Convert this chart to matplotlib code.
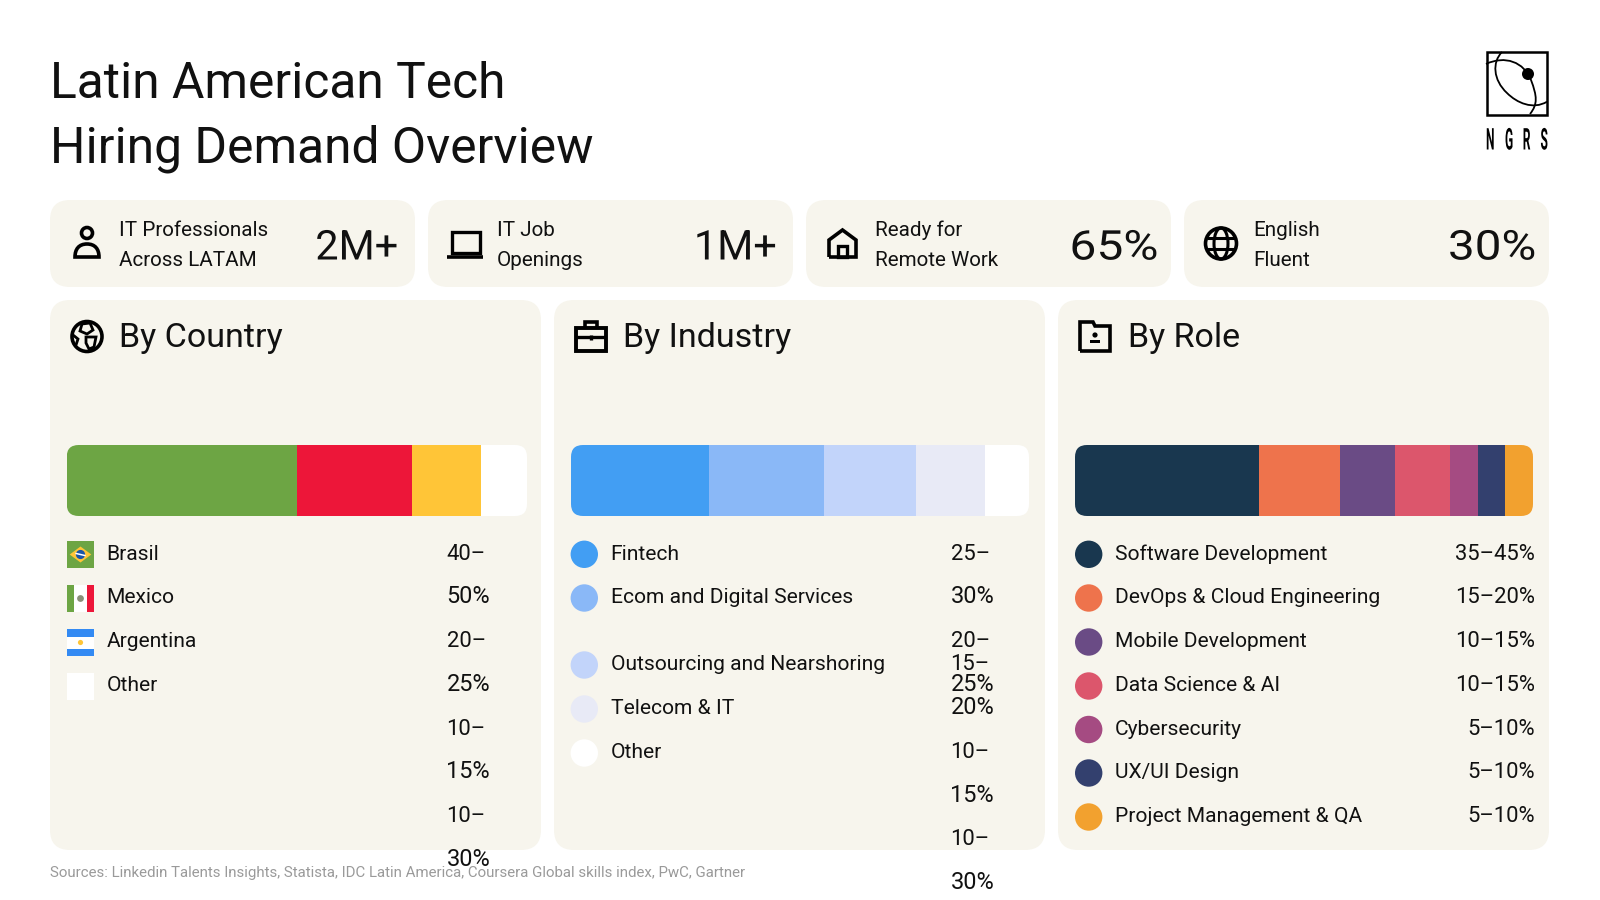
import numpy as np
import matplotlib
matplotlib.use("Agg")
import matplotlib.pyplot as plt
from matplotlib.patches import FancyBboxPatch, Circle, Rectangle, Polygon, Ellipse, PathPatch
from matplotlib.path import Path
from matplotlib.patheffects import AbstractPathEffect
from matplotlib.transforms import Affine2D

# ---------- data ----------
title_lines = ["Latin American Tech", "Hiring Demand Overview"]
kpi_labels = [["IT Professionals", "Across LATAM"], ["IT Job", "Openings"],
              ["Ready for", "Remote Work"], ["English", "Fluent"]]
kpi_values = ["2M+", "1M+", "65%", "30%"]
panel_titles = ["By Country", "By Industry", "By Role"]

countries = ["Brasil", "Mexico", "Argentina", "Other"]
country_share = [50, 25, 15, 10]
country_ranges = ["40–50%", "20–25%", "10–15%", "10–30%"]
country_colors = ["#6DA544", "#ED1639", "#FFC537", "#FFFFFF"]

industries = ["Fintech", "Ecom and Digital Services", "Outsourcing and Nearshoring", "Telecom & IT", "Other"]
industry_share = [30, 25, 20, 15, 9.5]
industry_ranges = ["25–30%", "20–25%", "15–20%", "10–15%", "10–30%"]
industry_colors = ["#429EF3", "#8AB8F7", "#C2D4FA", "#E8EAF6", "#FFFFFF"]

roles = ["Software Development", "DevOps & Cloud Engineering", "Mobile Development", "Data Science & AI",
         "Cybersecurity", "UX/UI Design", "Project Management & QA"]
role_share = [40, 17.5, 12, 12, 6, 6, 6]
role_ranges = ["35–45%", "15–20%", "10–15%", "10–15%", "5–10%", "5–10%", "5–10%"]
role_colors = ["#19374F", "#EE734C", "#6A4B85", "#DC566C", "#A54B82", "#33406E", "#F2A12F"]

source_note = "Sources: Linkedin Talents Insights, Statista, IDC Latin America, Coursera Global skills index, PwC, Gartner"
logo_letters = ["N", "G", "R", "S"]

# ---------- style ----------
FONT = "Roboto"
INK = "#111111"
CARD = "#F7F5ED"
W, H = 1600, 900
plt.rcParams["font.family"] = [FONT, "DejaVu Sans"]

def px(s):
    return s * 0.72

class Squeeze(AbstractPathEffect):
    """Change text width horizontally while it stays a real text object."""
    def __init__(self, sx):
        super().__init__()
        self.sx = sx
    def draw_path(self, renderer, gc, tpath, affine, rgbFace=None):
        renderer.draw_path(gc, tpath, Affine2D().scale(self.sx, 1) + affine, rgbFace)

fig = plt.figure(figsize=(16, 9), dpi=100, facecolor="white")
ax = fig.add_axes([0, 0, 1, 1])
ax.set_xlim(0, W)
ax.set_ylim(H, 0)
ax.axis("off")

def rbox(x0, y0, x1, y1, r, color, z=1, **kw):
    p = FancyBboxPatch((x0, y0), x1 - x0, y1 - y0, boxstyle=f"round,pad=0,rounding_size={r}",
                       fc=color, ec="none", zorder=z, **kw)
    ax.add_patch(p)
    return p

def txt(x, y, s, size, ha="left", color=INK, z=5, **kw):
    return ax.text(x, y, s, fontsize=px(size), ha=ha, va="baseline", color=color, zorder=z, **kw)

def stroke(xs, ys, lw=2.6):
    ax.plot(xs, ys, color="#000000", lw=lw, solid_capstyle="butt", solid_joinstyle="miter", zorder=6)

def ring(cx, cy, r, lw=2.6, fc="none"):
    ax.add_patch(Circle((cx, cy), r, fc=fc, ec="#000000", lw=lw, zorder=6))

# ---------- title ----------
for s, y in zip(title_lines, [97.5, 162.5]):
    txt(50, y, s, 49.8)

# ---------- logo ----------
ax.add_patch(Rectangle((1486.8, 52.3), 60.5, 62.5, fc="none", ec="#000000", lw=1.8, zorder=6))
arc1 = Path([(1486, 64), (1505, 55), (1524, 62), (1531, 80), (1537, 96), (1538, 104), (1530, 114)],
            [Path.MOVETO] + [Path.CURVE4] * 6)
arc2 = Path([(1502, 52), (1492, 62), (1493, 80), (1507, 93), (1517, 103), (1533, 110), (1547, 101.7)],
            [Path.MOVETO] + [Path.CURVE4] * 6)
for a in (arc1, arc2):
    ax.add_patch(PathPatch(a, fc="none", ec="#000000", lw=1.3, zorder=6))
ax.add_patch(Circle((1528, 74), 6, fc="#000000", ec="none", zorder=7))
for letter, x in zip(logo_letters, [1486, 1505, 1522.8, 1540.5]):
    t = txt(x, 149.5, letter, 30, color="#000000", fontweight="bold")
    t.set_path_effects([Squeeze(0.40)])

# ---------- KPI cards ----------
kpi_x = [(50, 415), (428, 793), (806, 1171), (1184, 1549)]
kpi_text_x = [118.7, 496.7, 875.2, 1253.2]
kpi_val_x = [315.3, 693.9, 1069.4, 1448]
kpi_val_sx = [1.01, 1.01, 1.17, 1.16]
for (x0, x1), lab, val, lx, vx, sx in zip(kpi_x, kpi_labels, kpi_values, kpi_text_x, kpi_val_x, kpi_val_sx):
    rbox(x0, 200, x1, 287, 20, CARD)
    txt(lx, 236.5, lab[0], 20.6)
    txt(lx, 265.5, lab[1], 20.6)
    t = txt(vx, 259.5, val, 41)
    t.set_path_effects([Squeeze(sx)])

# person icon
ring(87, 233, 5.5)
ax.add_patch(PathPatch(Path([(75, 257), (75, 249), (79, 244), (87, 244), (95, 244), (99, 249), (99, 257), (75, 257)],
                            [Path.MOVETO, Path.CURVE4, Path.CURVE4, Path.CURVE4, Path.CURVE4, Path.CURVE4, Path.CURVE4, Path.CLOSEPOLY]),
                       fc="none", ec="#000000", lw=2.6, zorder=6))
# laptop icon
ax.add_patch(Rectangle((452, 232), 28, 21, fc="none", ec="#000000", lw=2.4, zorder=6))
stroke([447, 483], [256.5, 256.5], lw=2.6)
# house icon
stroke([829, 829, 842.5, 856, 856, 829], [257, 240, 230, 240, 257, 257])
ax.add_patch(Rectangle((838, 246), 9, 11, fc="none", ec="#000000", lw=2.4, zorder=6))
# globe icon
ring(1221, 243.5, 15.5)
ax.add_patch(Ellipse((1221, 243.5), 14, 31, fc="none", ec="#000000", lw=2.2, zorder=6))
stroke([1207, 1235], [238, 238], lw=2.2)
stroke([1207, 1235], [249, 249], lw=2.2)

# ---------- panels ----------
panel_x = [(50, 541), (554, 1045), (1058, 1549)]
title_x = [119, 623, 1127.5]
for (x0, x1), t, tx in zip(panel_x, panel_titles, title_x):
    rbox(x0, 300, x1, 850, 20, CARD)
    txt(tx, 346.5, t, 34)

# panel icons
ring(87, 336.5, 15)
ax.add_patch(Polygon([(82, 324), (90, 323), (93, 330), (87, 334), (80, 331)], fc="none", ec="#000", lw=2, zorder=6))
ax.add_patch(Polygon([(86, 337), (96, 337), (94, 347), (89, 349), (86, 343)], fc="none", ec="#000", lw=2, zorder=6))
stroke([73, 78, 76], [335, 339, 345], lw=2)
ax.add_patch(Rectangle((576, 328), 30, 23, fc="none", ec="#000000", lw=2.8, zorder=6))
stroke([576, 606], [337, 337], lw=2.4)
stroke([585, 585, 597, 597], [328, 322, 322, 328], lw=2.6)
stroke([591, 591], [335, 340], lw=2.4)
stroke([1080, 1080, 1093, 1095, 1110, 1110, 1080], [351, 322, 322, 326, 326, 351, 351])
ax.add_patch(Circle((1095, 335), 2.6, fc="#000", ec="none", zorder=6))
ax.add_patch(Rectangle((1090, 340), 10, 3, fc="#000", ec="none", zorder=6))

# ---------- stacked bars, drawn through their own axes ----------
def stacked_bar(x0, x1, shares, colors):
    y0, y1 = 445, 516
    bax = fig.add_axes([x0 / W, 1 - y1 / H, (x1 - x0) / W, (y1 - y0) / H], zorder=3)
    bax.set_xlim(0, sum(shares))
    bax.set_ylim(0, 1)
    bax.axis("off")
    clip = FancyBboxPatch((x0, y0), x1 - x0, y1 - y0, boxstyle="round,pad=0,rounding_size=12",
                          fc="none", ec="none", transform=ax.transData)
    left = 0
    for v, c in zip(shares, colors):
        b = bax.barh(0.5, v, left=left, height=1, color=c, linewidth=0)[0]
        b.set_clip_path(clip)
        left += v

stacked_bar(66.7, 527, country_share, country_colors)
stacked_bar(571, 1029, industry_share, industry_colors)
stacked_bar(1075, 1533, role_share, role_colors)

def wrapped(ranges):
    lines = []
    for r in ranges:
        a, b = r.split("–")
        lines += [a + "–", b]
    return lines

def value_size(s):
    return 23.5 if s.endswith("%") else 22

ROW = [559.6, 603.3, 647.3, 691.3, 734.8, 778.3, 822.3, 866.3]
NAME = 21
CIRCLE_UP = 5.3

# country legend
for name, y in zip(countries, ROW):
    txt(106.5, y, name, NAME)
for s, y in zip(wrapped(country_ranges), ROW):
    txt(446.5, y, s, value_size(s))
fx0, fw, fh = 66.7, 27.6, 27
fy = [541, 585, 629, 673]
# flags
ax.add_patch(Rectangle((fx0, fy[0]), fw, fh, fc=country_colors[0], zorder=4))
ax.add_patch(Polygon([(fx0 + 3, fy[0] + fh / 2), (fx0 + fw / 2, fy[0] + 5.5), (fx0 + fw - 3, fy[0] + fh / 2), (fx0 + fw / 2, fy[0] + fh - 5.5)],
                     fc="#FFC537", zorder=5))
ax.add_patch(Circle((fx0 + fw / 2, fy[0] + fh / 2), 4.6, fc="#1A55A8", zorder=6))
ax.plot([fx0 + fw / 2 - 4.4, fx0 + fw / 2 + 4.4], [fy[0] + fh / 2 - 1, fy[0] + fh / 2 + 1], color="white", lw=1.1, zorder=7)
ax.add_patch(Rectangle((fx0, fy[1]), fw, fh, fc="white", zorder=4))
ax.add_patch(Rectangle((fx0, fy[1]), 7.5, fh, fc=country_colors[0], zorder=5))
ax.add_patch(Rectangle((fx0 + fw - 7.5, fy[1]), 7.5, fh, fc=country_colors[1], zorder=5))
ax.add_patch(Circle((fx0 + fw / 2, fy[1] + fh / 2), 3.4, fc="#8A8F78", zorder=6))
ax.add_patch(Rectangle((fx0, fy[2]), fw, fh, fc="white", zorder=4))
ax.add_patch(Rectangle((fx0, fy[2]), fw, 7.5, fc="#338AF3", zorder=5))
ax.add_patch(Rectangle((fx0, fy[2] + fh - 7.5), fw, 7.5, fc="#338AF3", zorder=5))
ax.add_patch(Circle((fx0 + fw / 2, fy[2] + fh / 2), 2.6, fc="#FFC537", zorder=6))
ax.add_patch(Rectangle((fx0, fy[3]), fw, fh, fc=country_colors[3], zorder=4))

# industry legend
ind_y = [559.6, 603.3, 670.3, 714.3, 758.3]
ind_val_y = [559.6, 603.3, 647.3, 691.3, 670.3, 714.3, 758.3, 802, 845.3, 889.3]
for name, y, c in zip(industries, ind_y, industry_colors):
    txt(610.7, y, name, NAME)
    ax.add_patch(Circle((584.3, y - CIRCLE_UP), 13.7, fc=c, ec="none", zorder=4))
for s, y in zip(wrapped(industry_ranges), ind_val_y):
    txt(950.5, y, s, value_size(s))

# role legend
for name, rng, c, y in zip(roles, role_ranges, role_colors, ROW):
    txt(1114.7, y, name, NAME)
    txt(1535, y, rng, 22, ha="right")
    ax.add_patch(Circle((1088.7, y - CIRCLE_UP), 13.7, fc=c, ec="none", zorder=4))

# ---------- source ----------
txt(50, 877, source_note, 15.05, color="#9A9A9A", z=2)

fig.savefig("out.png", dpi=100)
